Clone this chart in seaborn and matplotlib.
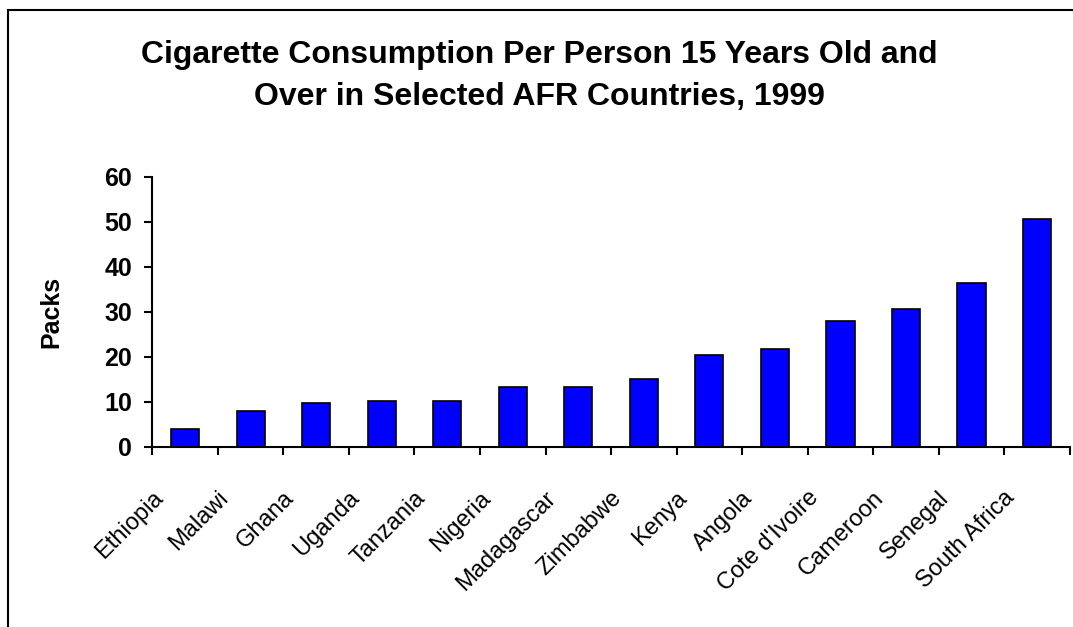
import matplotlib
matplotlib.use("Agg")
import matplotlib.pyplot as plt
import seaborn as sns
import pandas as pd
from matplotlib.patches import Rectangle

countries = ["Ethiopia", "Malawi", "Ghana", "Uganda", "Tanzania", "Nigeria",
             "Madagascar", "Zimbabwe", "Kenya", "Angola", "Cote d'Ivoire",
             "Cameroon", "Senegal", "South Africa"]
packs = [3.9, 7.9, 9.7, 10.1, 10.1, 13.2, 13.2, 15.0, 20.3, 21.6, 27.9, 30.5, 36.3, 50.5]
yticks = [0, 10, 20, 30, 40, 50, 60]

title_line1 = "Cigarette Consumption Per Person 15 Years Old and"
title_line2 = "Over in Selected AFR Countries, 1999"

sns.set_style("white")
plt.rcParams['font.family'] = ['Liberation Sans', 'DejaVu Sans']
plt.rcParams['text.color'] = 'black'
plt.rcParams['axes.labelcolor'] = 'black'
plt.rcParams['xtick.color'] = 'black'
plt.rcParams['ytick.color'] = 'black'

df = pd.DataFrame({"country": countries, "packs": packs})

fig = plt.figure(figsize=(10.73, 6.27), dpi=100)
ax = fig.add_axes([0.1414, 0.2876, 0.8556, 0.4306])

sns.barplot(data=df, x="country", y="packs", color="#0000FF", saturation=1,
            edgecolor="black", linewidth=1.2, width=0.43, ax=ax)

ax.set_xlim(-0.5, len(countries) - 0.5)
ax.set_ylim(0, 60)
ax.set_yticks(yticks)
ax.set_yticklabels([str(v) for v in yticks], fontsize=18, fontweight="bold")
# label anchor sits a little left of each bar centre, as in the reference
ax.set_xticks([i - 0.51 for i in range(len(countries))])
ax.set_xticklabels(countries, rotation=45, ha="right", va="top",
                   rotation_mode="anchor", fontsize=17)
ax.set_xticks([i - 0.5 for i in range(len(countries) + 1)], minor=True)
ax.tick_params(axis="x", which="major", length=0, pad=29)
ax.tick_params(axis="x", which="minor", length=6, width=1.5, direction="out", color="black", bottom=True)
ax.tick_params(axis="y", length=6, width=1.5, direction="out", color="black", left=True, pad=8)
ax.set_xlabel("")
ax.set_ylabel("Packs", fontsize=18, fontweight="bold")
ax.yaxis.set_label_coords(-0.0966, 0.5)

for s in ["top", "right"]:
    ax.spines[s].set_visible(False)
for s in ["left", "bottom"]:
    ax.spines[s].set_color("black")
    ax.spines[s].set_linewidth(1.5)

fig.text(539.5 / 1073, 1 - 63 / 627, title_line1, ha="center", va="baseline",
         fontsize=23, fontweight="bold")
fig.text(539.5 / 1073, 1 - 105 / 627, title_line2, ha="center", va="baseline",
         fontsize=23, fontweight="bold")

fig.patches.append(Rectangle((8 / 1073, -0.1), 1.2, 1 - 10 / 627 + 0.1,
                             transform=fig.transFigure, fill=False,
                             edgecolor="black", linewidth=1.5))

fig.savefig("out.png", dpi=100)
